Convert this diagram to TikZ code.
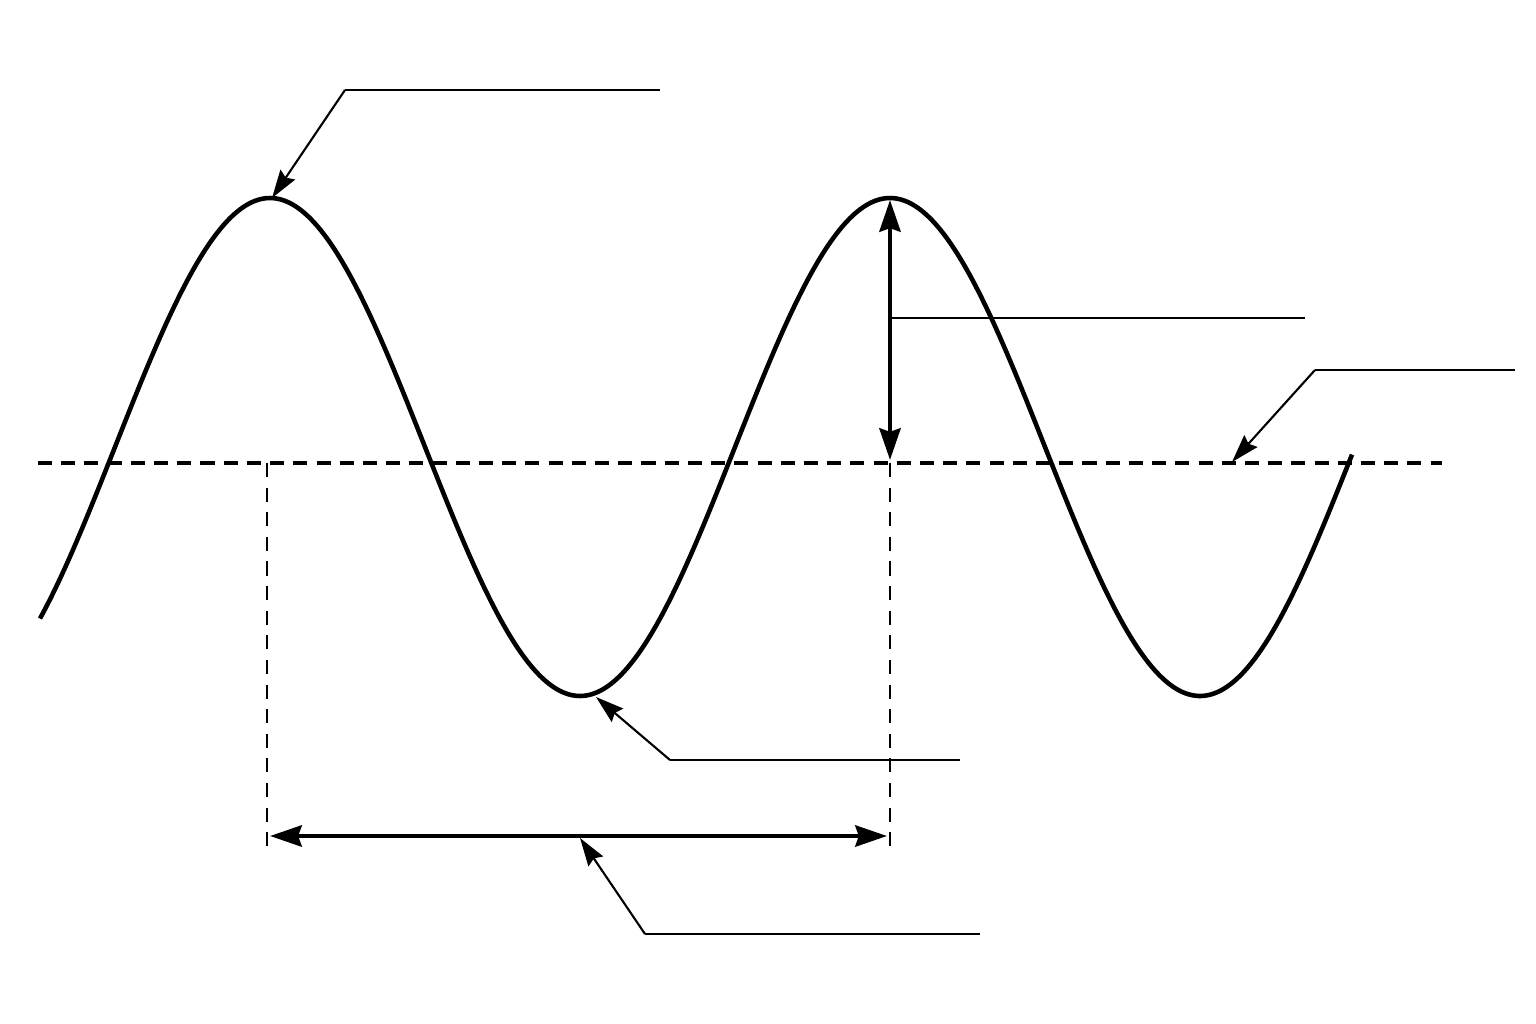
\documentclass[tikz,border=0pt]{standalone}
\usepackage{tikz}
\usetikzlibrary{arrows.meta}
\tikzset{
    wave/.style={line width=1.3pt},
    leader/.style={line width=0.6pt},
    tip/.style={-{Stealth[length=8pt,width=5pt,inset=1pt]}},
    dimline/.style={line width=1.3pt, {Stealth[length=9pt,width=6pt,inset=1pt]}-{Stealth[length=9pt,width=6pt,inset=1pt]}},
    axisline/.style={line width=0.9pt, dash pattern=on 4pt off 2.6pt},
    guide/.style={line width=0.5pt, dash pattern=on 4pt off 3pt}
}

\begin{document}
\begin{tikzpicture}[x=0.01cm, y=-0.01cm]
        \useasboundingbox (0,0) rectangle (1536,1024);

        % points on the wave and its marks
        \coordinate (peakA) at (272,198);
        \coordinate (peakB) at (890,200);
        \coordinate (trough) at (596,697);
        \coordinate (midL) at (38,463);
        \coordinate (midR) at (1442,463);
        \coordinate (midB) at (890,460);
        \coordinate (ampmid) at (890,318);
        \coordinate (guideA) at (267,463);
        \coordinate (guideAe) at (267,852);
        \coordinate (guideB) at (890,463);
        \coordinate (guideBe) at (890,852);
        \coordinate (lenL) at (270,836);
        \coordinate (lenR) at (887,836);
        \coordinate (lenmid) at (580,838);
        \coordinate (axispt) at (1232,462);

        % leader bends and free ends
        \coordinate (peakK) at (345,90);
        \coordinate (peakE) at (660,90);
        \coordinate (ampE) at (1305,318);
        \coordinate (axisK) at (1315,370);
        \coordinate (axisE) at (1515,370);
        \coordinate (troughK) at (670,760);
        \coordinate (troughE) at (960,760);
        \coordinate (lenK) at (645,934);
        \coordinate (lenE) at (980,934);

        \draw[axisline] (midL) -- (midR);
        \draw[guide] (guideA) -- (guideAe);
        \draw[guide] (guideB) -- (guideBe);

        \draw[wave] plot[domain=40:1352, samples=240, smooth] (\x, {447 - 249*cos((\x-270)/620*360)});

        \draw[dimline] (peakB) -- (midB);
        \draw[dimline] (lenL) -- (lenR);

        \draw[leader] (peakE) -- (peakK);
        \draw[leader, tip] (peakK) -- (peakA);
        \draw[leader] (ampmid) -- (ampE);
        \draw[leader] (axisE) -- (axisK);
        \draw[leader, tip] (axisK) -- (axispt);
        \draw[leader] (troughE) -- (troughK);
        \draw[leader, tip] (troughK) -- (trough);
        \draw[leader] (lenE) -- (lenK);
        \draw[leader, tip] (lenK) -- (lenmid);
    \end{tikzpicture}
\end{document}
